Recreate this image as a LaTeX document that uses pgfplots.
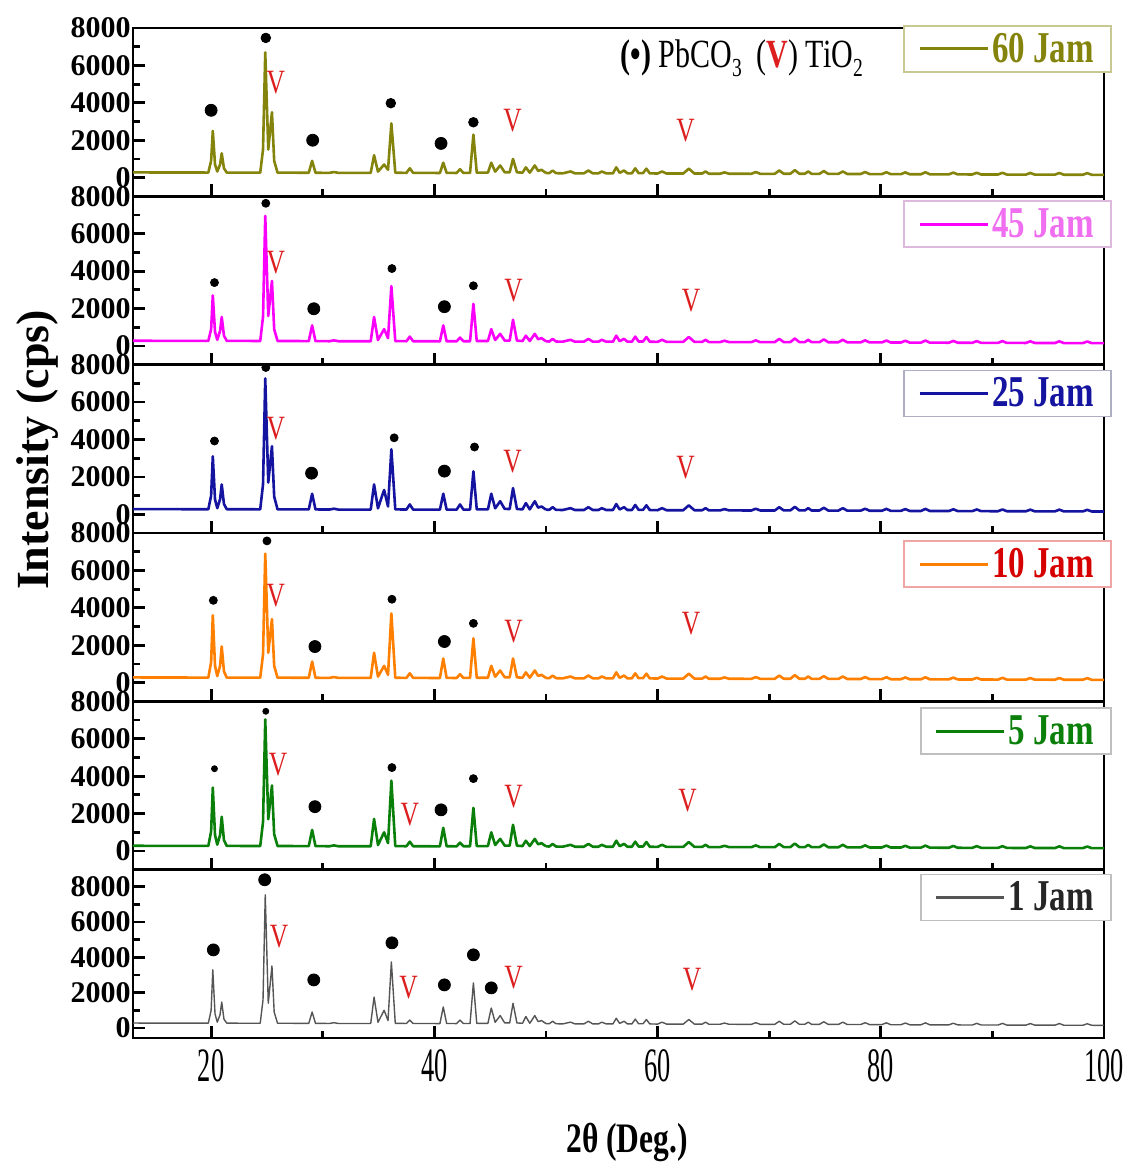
\documentclass[border=0pt]{standalone}
\usepackage{pgfplots}
\pgfplotsset{compat=1.18}
\usepackage{pgfplotstable}
\usepackage{fontspec}
\setmainfont{Liberation Serif}
\newfontfamily\condfont{Liberation Serif}[FakeStretch=0.75]
\newfontfamily\narrowfont{Liberation Serif}[FakeStretch=0.55]

\definecolor{olivec}{RGB}{132,132,12}
\definecolor{magc}{RGB}{250,0,250}
\definecolor{magtext}{RGB}{240,110,240}
\definecolor{bluec}{RGB}{20,20,160}
\definecolor{orangec}{RGB}{255,128,0}
\definecolor{redtext}{RGB}{215,0,0}
\definecolor{greenc}{RGB}{10,128,10}
\definecolor{grayc}{RGB}{85,85,85}
\definecolor{vred}{RGB}{220,30,30}

\pgfplotstableread{
x y
50.0 250
50.3 240
50.6 380
50.9 240
51.5 230
52.2 330
52.6 230
53.4 230
53.8 380
54.2 230
54.7 230
55.0 330
55.4 230
56.0 230
56.3 550
56.6 260
57.0 380
57.3 230
57.7 230
58.0 500
58.3 240
58.7 240
59.0 480
59.3 230
60.0 220
60.4 330
60.8 220
62.3 220
62.8 480
63.3 220
64.0 220
64.3 330
64.6 210
65.6 210
66.0 280
66.4 210
68.4 205
68.8 300
69.2 205
70.5 205
70.9 380
71.3 210
71.9 210
72.3 400
72.7 210
73.2 210
73.5 330
73.8 205
74.5 205
74.9 350
75.3 200
76.2 200
76.6 330
77.0 195
78.2 195
78.6 300
79.0 190
80.1 190
80.5 290
80.9 185
81.8 185
82.2 280
82.6 180
83.6 180
84.0 290
84.4 178
86.1 175
86.5 270
86.9 172
88.2 170
88.6 260
89.0 168
90.5 166
90.9 260
91.3 164
93.0 162
93.4 250
93.8 160
95.6 158
96.0 250
96.4 156
98.1 154
98.5 240
98.9 152
100.0 150
}\tailtab

\pgfplotsset{
  panel/.style={
    scale only axis, width=485.5pt, height=84.17pt,
    xmin=13, xmax=100, ymin=-1000, ymax=8000,
    axis line style={line width=1.4pt},
    xtick={20,40,60,80,100}, minor xtick={30,50,70,90},
    ytick={0,2000,4000,6000,8000}, minor ytick={1000,3000,5000,7000},
    xtick pos=bottom, ytick pos=left, tick align=inside,
    major tick length=6pt, minor tick length=3.5pt,
    tick style={line width=1.4pt, black},
    xticklabels={},
    /pgf/number format/assume math mode=true,
    /pgf/number format/1000 sep={},
    yticklabel style={font=\fontsize{15}{15}\selectfont\bfseries, inner xsep=1pt},
    anchor=north west,
    legend cell align=left,
    legend image code/.code={\draw[##1, line width=1.5pt] (0pt,0pt) -- (34pt,0pt);},
    every axis plot/.append style={line join=round},
  },
  leg/.style n args={4}{legend style={at={(rel axis cs:1.008,#1)}, anchor=north east,
      draw=#2, line width=0.8pt, fill=white, text=#3,
      font=\condfont\bfseries\fontsize{22}{22}\selectfont,
      inner xsep=7pt, inner ysep=2pt, nodes={inner sep=1.5pt}}},
  dots/.style={only marks, mark=*, black, mark size=#1, forget plot},
  vmarks/.style={only marks, mark=text, text mark={V}, text mark as node=true,
      text mark style={font=\condfont\fontsize{17}{17}\selectfont, text=vred}, vred, forget plot},
}

\begin{document}
\begin{tikzpicture}
\useasboundingbox (-66.5pt,14pt) rectangle (504pt,-570.5pt);

% ---------- 60 Jam ----------
\begin{axis}[panel, at={(0pt,0pt)}, leg={1.018}{olivec!45}{olivec}{}]
\addplot[olivec, line width=1.3pt] coordinates {
(13,280) (16,275) (19.75,272) (20.0,900) (20.15,2500) (20.35,700) (20.55,330) (20.8,700) (20.95,1300) (21.15,500) (21.4,272) (24.4,268) (24.65,1500) (24.85,6700) (25.12,1500) (25.45,3500) (25.65,900) (25.95,268) (28.75,262) (29.05,900) (29.35,262) (30.6,255) (31,300) (31.4,255) (34.3,255) (34.6,1200) (34.95,320) (35.5,700) (35.85,420) (36.15,2900) (36.5,265) (37.5,255) (37.8,500) (38.1,255) (40.5,250) (40.8,800) (41.1,255) (42.0,250) (42.3,450) (42.6,255) (43.2,255) (43.5,2300) (43.8,265) (44.8,265) (45.1,800) (45.45,320) (45.9,650) (46.3,290) (46.75,285) (47.05,1000) (47.4,285) (47.9,265) (48.2,550) (48.55,265) (49.0,650) (49.3,360) (49.6,420) (50.0,250)};
\addlegendentry{60 Jam}
\addplot[olivec, line width=1.3pt, forget plot] table {\tailtab};
\addplot[dots=3pt] coordinates {(20.0,3600) (29.1,2000) (40.6,1830)};
\addplot[dots=2.4pt] coordinates {(24.9,7470) (36.1,3980) (43.5,2960)};
\addplot[vmarks] coordinates {(25.8,5100) (47.0,3060) (62.5,2500)};
\node[font=\condfont\fontsize{20}{20}\selectfont] at (rel axis cs:0.627,0.82)
  {{\bfseries(\textbullet)} PbCO\raisebox{-0.45ex}{\fontsize{13}{13}\selectfont 3}\ \ (\textcolor{vred}{\bfseries V}) TiO\raisebox{-0.45ex}{\fontsize{13}{13}\selectfont 2}};
\end{axis}

% ---------- 45 Jam ----------
\begin{axis}[panel, at={(0pt,-84.17pt)}, leg={0.976}{magc!35!gray!40}{magtext}{}]
\addplot[magc, line width=1.3pt] coordinates {
(13,280) (16,275) (19.75,272) (20.0,900) (20.15,2700) (20.35,750) (20.55,330) (20.8,800) (20.95,1550) (21.15,550) (21.4,272) (24.4,268) (24.65,1550) (24.85,6950) (25.12,1600) (25.45,3480) (25.65,900) (25.95,268) (28.75,262) (29.05,1100) (29.35,262) (30.6,255) (31,300) (31.4,255) (34.3,255) (34.6,1550) (34.95,320) (35.5,900) (35.85,420) (36.15,3200) (36.5,265) (37.5,255) (37.8,500) (38.1,255) (40.5,250) (40.8,1100) (41.1,255) (42.0,250) (42.3,450) (42.6,255) (43.2,255) (43.5,2250) (43.8,265) (44.8,265) (45.1,900) (45.45,320) (45.9,650) (46.3,290) (46.75,285) (47.05,1400) (47.4,285) (47.9,265) (48.2,550) (48.55,265) (49.0,650) (49.3,360) (49.6,420) (50.0,250)};
\addlegendentry{45 Jam}
\addplot[magc, line width=1.3pt, forget plot] table {\tailtab};
\addplot[dots=3pt] coordinates {(29.2,1990) (40.9,2100)};
\addplot[dots=2pt] coordinates {(20.3,3390) (24.9,7630) (36.2,4140) (43.5,3220)};
\addplot[vmarks] coordinates {(25.8,4460) (47.1,2960) (63.0,2420)};
\end{axis}

% ---------- 25 Jam ----------
\begin{axis}[panel, at={(0pt,-168.34pt)}, leg={0.97}{bluec!30!gray!50}{bluec}{}]
\addplot[bluec, line width=1.3pt] coordinates {
(13,280) (16,275) (19.75,272) (20.0,1000) (20.15,3100) (20.35,800) (20.55,330) (20.8,800) (20.95,1600) (21.15,550) (21.4,272) (24.4,268) (24.65,1600) (24.85,7270) (25.12,1700) (25.45,3640) (25.65,950) (25.95,268) (28.75,262) (29.05,1100) (29.35,262) (30.6,255) (31,300) (31.4,255) (34.3,255) (34.6,1600) (34.95,320) (35.5,1300) (35.85,420) (36.15,3480) (36.5,265) (37.5,255) (37.8,530) (38.1,255) (40.5,250) (40.8,1100) (41.1,255) (42.0,250) (42.3,530) (42.6,255) (43.2,255) (43.5,2300) (43.8,265) (44.8,265) (45.1,1100) (45.45,320) (45.9,700) (46.3,290) (46.75,285) (47.05,1400) (47.4,285) (47.9,265) (48.2,600) (48.55,265) (49.0,700) (49.3,360) (49.6,420) (50.0,250)};
\addlegendentry{25 Jam}
\addplot[bluec, line width=1.3pt, forget plot] table {\tailtab};
\addplot[dots=3pt] coordinates {(29.0,2200) (40.9,2310)};
\addplot[dots=2pt] coordinates {(20.3,3920) (24.9,7850) (36.4,4090) (43.6,3600)};
\addplot[vmarks] coordinates {(25.8,4570) (47.0,2800) (62.5,2470)};
\end{axis}

% ---------- 10 Jam ----------
\begin{axis}[panel, at={(0pt,-252.51pt)}, leg={0.958}{redtext!35}{redtext}{}]
\addplot[orangec, line width=1.3pt] coordinates {
(13,280) (16,275) (19.75,272) (20.0,1100) (20.15,3600) (20.35,900) (20.55,350) (20.8,900) (20.95,1940) (21.15,600) (21.4,272) (24.4,268) (24.65,1500) (24.85,6900) (25.12,1600) (25.45,3400) (25.65,900) (25.95,268) (28.75,262) (29.05,1130) (29.35,262) (30.6,255) (31,300) (31.4,255) (34.3,255) (34.6,1600) (34.95,320) (35.5,900) (35.85,420) (36.15,3700) (36.5,265) (37.5,255) (37.8,500) (38.1,255) (40.5,250) (40.8,1290) (41.1,255) (42.0,250) (42.3,450) (42.6,255) (43.2,255) (43.5,2370) (43.8,265) (44.8,265) (45.1,900) (45.45,320) (45.9,650) (46.3,290) (46.75,285) (47.05,1290) (47.4,285) (47.9,265) (48.2,550) (48.55,265) (49.0,650) (49.3,360) (49.6,420) (50.0,250)};
\addlegendentry{10 Jam}
\addplot[orangec, line width=1.3pt, forget plot] table {\tailtab};
\addplot[dots=3pt] coordinates {(29.3,1930) (40.9,2200)};
\addplot[dots=2pt] coordinates {(20.2,4400) (25.0,7580) (36.2,4460) (43.5,3170)};
\addplot[vmarks] coordinates {(25.8,4680) (47.1,2740) (63.0,3170)};
\end{axis}

% ---------- 5 Jam ----------
\begin{axis}[panel, at={(0pt,-336.68pt)}, leg={0.964}{gray!50}{greenc}{}]
\addplot[greenc, line width=1.3pt] coordinates {
(13,280) (16,275) (19.75,272) (20.0,1050) (20.15,3390) (20.35,850) (20.55,340) (20.8,850) (20.95,1830) (21.15,580) (21.4,272) (24.4,268) (24.65,1550) (24.85,7040) (25.12,1700) (25.45,3500) (25.65,900) (25.95,268) (28.75,262) (29.05,1130) (29.35,262) (30.6,255) (31,300) (31.4,255) (34.3,255) (34.6,1720) (34.95,320) (35.5,1000) (35.85,420) (36.15,3760) (36.5,265) (37.5,255) (37.8,500) (38.1,255) (40.5,250) (40.8,1240) (41.1,255) (42.0,250) (42.3,450) (42.6,255) (43.2,255) (43.5,2310) (43.8,265) (44.8,265) (45.1,1000) (45.45,320) (45.9,650) (46.3,290) (46.75,285) (47.05,1400) (47.4,285) (47.9,265) (48.2,550) (48.55,265) (49.0,650) (49.3,360) (49.6,420) (50.0,250)};
\addlegendentry{5 Jam}
\addplot[greenc, line width=1.3pt, forget plot] table {\tailtab};
\addplot[dots=3pt] coordinates {(29.3,2370) (40.6,2200)};
\addplot[dots=2pt] coordinates {(36.2,4460) (43.5,3870)};
\addplot[dots=1.5pt] coordinates {(20.3,4400) (24.9,7470)};
\addplot[vmarks] coordinates {(26.0,4620) (37.8,1940) (47.1,2900) (62.7,2690)};
\end{axis}

% ---------- 1 Jam ----------
\begin{axis}[panel, at={(0pt,-420.85pt)}, ymin=-570, ymax=8960,
  leg={0.976}{gray!50}{black!85}{},
  xticklabels={20,40,60,80,100},
  xticklabel style={font=\narrowfont\fontsize{24}{24}\selectfont, yshift=-2pt}]
\addplot[grayc, line width=0.7pt] coordinates {
(13,280) (16,275) (19.75,272) (20.0,1000) (20.15,3290) (20.35,800) (20.55,330) (20.8,750) (20.95,1470) (21.15,500) (21.4,272) (24.4,268) (24.65,1600) (24.85,7540) (25.12,1400) (25.45,3510) (25.65,900) (25.95,268) (28.75,262) (29.05,900) (29.35,262) (30.6,255) (31,300) (31.4,255) (34.3,255) (34.6,1750) (34.95,320) (35.5,1000) (35.85,420) (36.15,3740) (36.5,265) (37.5,255) (37.8,450) (38.1,255) (40.5,250) (40.8,1190) (41.1,255) (42.0,250) (42.3,450) (42.6,255) (43.2,255) (43.5,2550) (43.8,265) (44.8,265) (45.1,1130) (45.45,320) (45.9,700) (46.3,290) (46.75,285) (47.05,1400) (47.4,285) (47.9,265) (48.2,650) (48.55,265) (49.0,700) (49.3,360) (49.6,420) (50.0,250)};
\addlegendentry{1 Jam}
\addplot[grayc, line width=0.7pt, forget plot] table {\tailtab};
\addplot[dots=3pt] coordinates {(20.2,4420) (24.8,8390) (29.2,2720) (36.2,4820) (40.9,2440) (43.5,4140) (45.1,2270)};
\addplot[vmarks] coordinates {(26.1,5160) (37.7,2270) (47.1,2830) (63.1,2720)};
\end{axis}

\node[rotate=90, font=\bfseries\fontsize{23}{23}\selectfont] at (-47.5pt,-211pt) {Intensity (cps)};
\node[font=\condfont\bfseries\fontsize{21}{21}\selectfont] at (247pt,-557pt) {2θ (Deg.)};
\end{tikzpicture}
\end{document}
